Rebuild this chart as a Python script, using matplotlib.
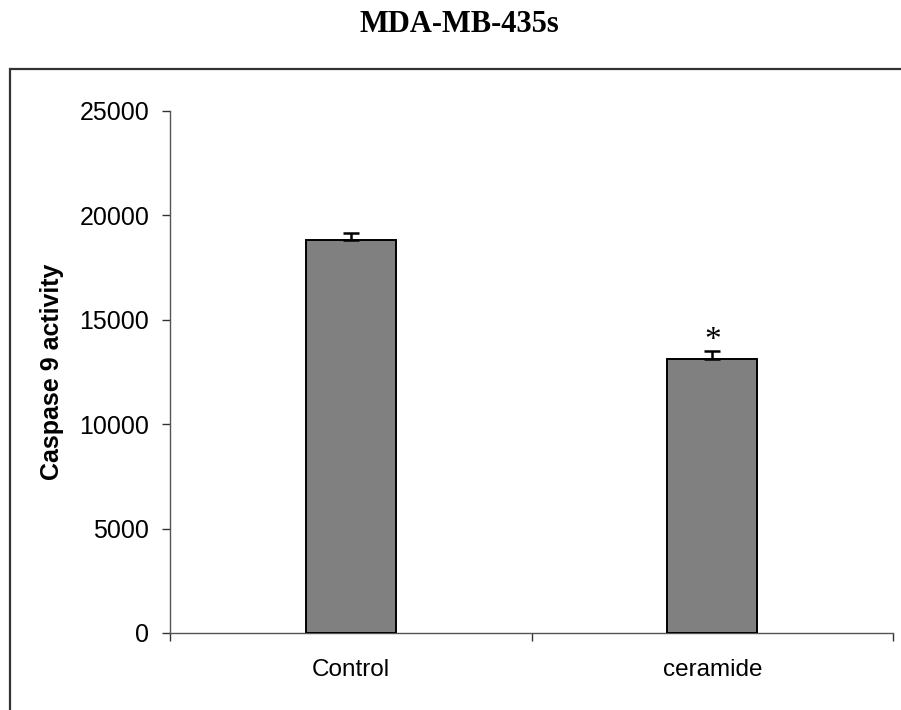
import numpy as np
import matplotlib.pyplot as plt
from matplotlib.patches import Rectangle

groups = ["Control", "ceramide"]
activity = [18800, 13130]
errors = [370, 390]
y_ticks = [0, 5000, 10000, 15000, 20000, 25000]

fig = plt.figure(figsize=(9.01, 7.10), dpi=100)
W, H = 901, 710

# outer frame (right and bottom edges run off the picture)
fig.patches.append(Rectangle((10 / W, -0.05), 1.2, 1 - 69 / H + 0.05,
                             transform=fig.transFigure, fill=False,
                             edgecolor="#333333", linewidth=1.6))

fig.text(459 / W, 1 - 24 / H, "MDA-MB-435s", ha="center", va="center",
         family="Liberation Serif", fontweight="bold", fontsize=22)

ax = fig.add_axes([170 / W, 1 - 633 / H, (893 - 170) / W, (633 - 111) / H])
x = np.arange(len(groups))
ax.bar(x, activity, width=0.25, color="#808080", edgecolor="black", linewidth=1.4,
       yerr=[np.zeros(len(errors)), errors], capsize=5.5,
       error_kw=dict(elinewidth=1.8, capthick=1.8, ecolor="black"), zorder=3)

ax.text(x[1], activity[1] + errors[1] + 500, "*", ha="center", va="center",
        family="Liberation Serif", fontsize=24)

ax.set_xlim(-0.5, 1.5)
ax.set_ylim(0, 25000)
ax.set_yticks(y_ticks)
ax.set_yticklabels([str(v) for v in y_ticks], family="Liberation Sans", fontsize=18)
ax.set_xticks([-0.5, 0.5, 1.5])
ax.set_xticklabels([])
ax.set_xticks(x, minor=True)
ax.set_xticklabels(groups, minor=True, family="Liberation Sans", fontsize=17.5)
ax.tick_params(axis="x", which="minor", length=0, pad=19)
ax.tick_params(axis="x", which="major", length=6, width=1, color="#333333")
ax.tick_params(axis="y", length=6, width=1, color="#333333", pad=9)

for side in ["top", "right"]:
    ax.spines[side].set_visible(False)
for side in ["left", "bottom"]:
    ax.spines[side].set_color("#555555")
    ax.spines[side].set_linewidth(1)

fig.text(52 / W, 1 - 372 / H, "Caspase 9 activity", rotation=90, ha="center", va="center",
         family="Liberation Sans", fontweight="bold", fontsize=18)

fig.savefig("out.png", dpi=100)
